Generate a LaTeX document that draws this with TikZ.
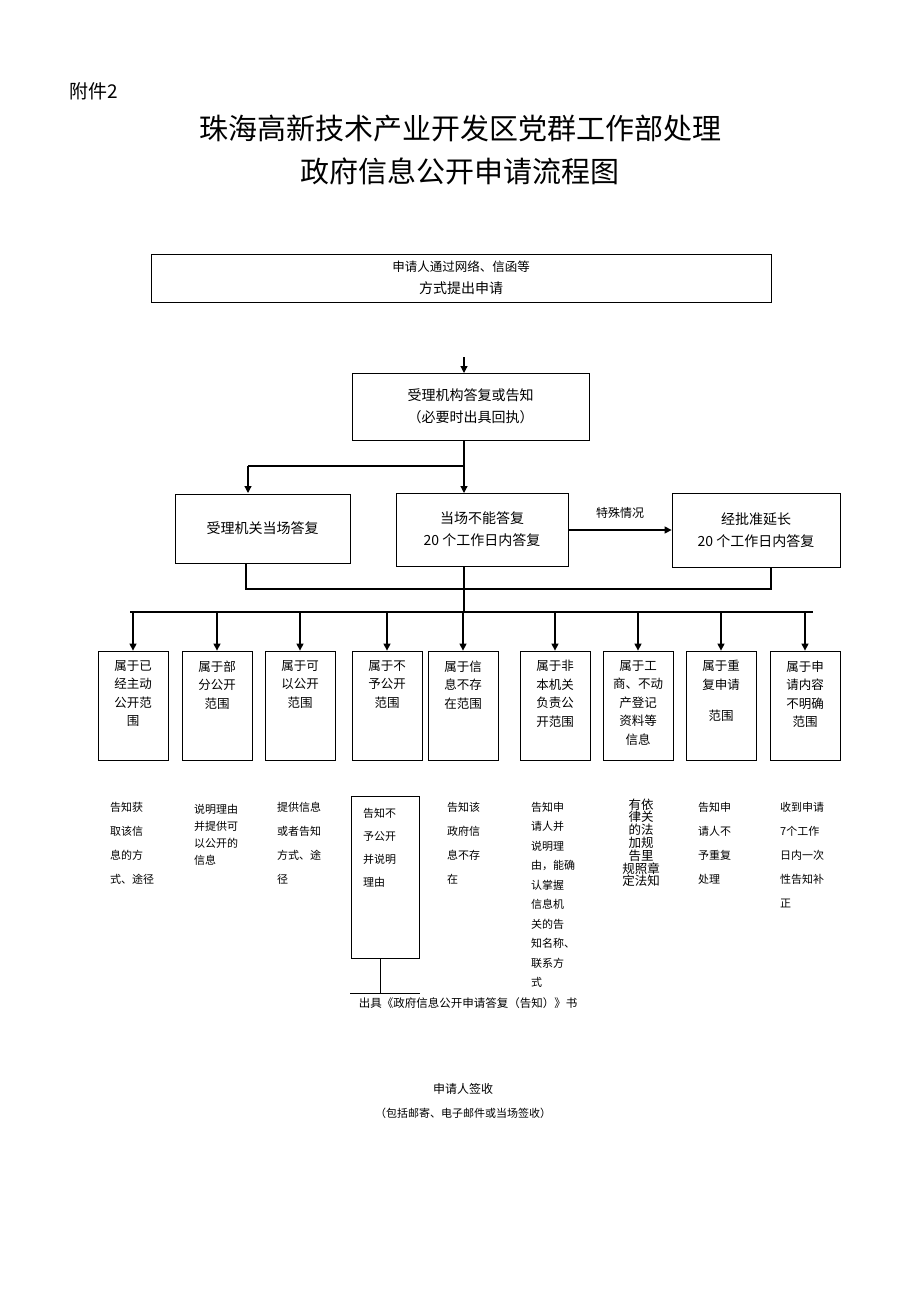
\documentclass[tikz,border=0pt]{standalone}
\usepackage{fontspec}
\setmainfont{Noto Sans CJK SC}
\usetikzlibrary{arrows.meta}
\begin{document}
\begin{tikzpicture}[x=1pt,y=-1pt,
  bx/.style={draw,line width=0.8pt,inner sep=0pt},
  ar/.style={-{Triangle[length=7pt,width=7pt]},line width=1.2pt},
  ln/.style={line width=1.2pt},
  t/.style={font=\fontsize{14}{22}\selectfont,align=center},
  s/.style={font=\fontsize{12.5}{19}\selectfont,align=center},
  b/.style={font=\fontsize{11}{24}\selectfont,align=left,anchor=north west,inner sep=0pt}]
\useasboundingbox (0,0) rectangle (920,1301);
\node[anchor=west,font=\fontsize{19}{22}\selectfont] (fj) at (66,91) {附件2};
\node[font=\fontsize{29}{43}\selectfont,align=center] (title) at (460,150) {珠海高新技术产业开发区党群工作部处理\\政府信息公开申请流程图};
\node[bx,t,minimum width=620,minimum height=48] (n1) at (461,278) {\fontsize{12.5}{22}\selectfont 申请人通过网络、信函等\\方式提出申请};
\node[bx,t,minimum width=237,minimum height=67] (n2) at (470.5,406.5) {受理机构答复或告知\\（必要时出具回执）};
\coordinate (p0) at (464,357);
\draw[ar] (p0) -- (464,373);
\node[bx,t,minimum width=175,minimum height=69] (a) at (262.5,528.5) {受理机关当场答复};
\node[bx,t,minimum width=172,minimum height=73] (bb) at (482,529.5) {当场不能答复\\20 个工作日内答复};
\node[bx,t,minimum width=168,minimum height=74] (c) at (756,530) {经批准延长\\20 个工作日内答复};
\draw[ln] (464,440) -- (464,466);
\draw[ln] (248,466) -- (464,466);
\draw[ar] (248,466) -- (248,493);
\draw[ar] (464,466) -- (464,493);
\draw[ar] (bb.east|-0,530) -- (c.west|-0,530) node[pos=0.5,above=8pt,s,font=\fontsize{12}{14}\selectfont] {特殊情况};
\draw[ln] (246,563) -- (246,589) -- (771,589) -- (771,567);
\draw[ln] (464,566) -- (464,612);
\draw[ln] (130,612) -- (813,612);
\foreach \x/\w/\txt [count=\i] in {
 133/70/{属于已\\经主动\\公开范\\围},
 217/70/{属于部\\分公开\\范围},
 300/70/{属于可\\以公开\\范围},
 387/70/{属于不\\予公开\\范围},
 463/70/{属于信\\息不存\\在范围},
 555/70/{属于非\\本机关\\负责公\\开范围},
 638/70/{属于工\\商、不动\\产登记\\资料等\\信息},
 721/70/{属于重\\复申请\\\\[-6pt]范围},
 805/70/{属于申\\请内容\\不明确\\范围}} {
  \node[bx,minimum width=\w,minimum height=109] (k\i) at (\x,705.5) {};
  \node[s,anchor=north,font=\fontsize{12.5}{18.5}\selectfont] (kt\i) at (\x,657) {\txt};
  \draw[ar] (\x,612) -- (k\i.north);
}
\node[b] (d1) at (110,802) {告知获\\取该信\\息的方\\式、途径};
\node[b,font=\fontsize{11}{17}\selectfont] (d2) at (194,804) {说明理由\\并提供可\\以公开的\\信息};
\node[b] (d3) at (277,802) {提供信息\\或者告知\\方式、途\\径};
\node[bx,minimum width=68,minimum height=162] (d4box) at (385,877) {};
\node[b,font=\fontsize{11}{23}\selectfont] (d4) at (363,808) {告知不\\予公开\\并说明\\理由};
\node[b] (d5) at (447,802) {告知该\\政府信\\息不存\\在};
\node[b,font=\fontsize{11}{19.5}\selectfont] (d6) at (531,802) {告知申\\请人并\\说明理\\由，能确\\认掌握\\信息机\\关的告\\知名称、\\联系方\\式};
\node[s,font=\fontsize{12.5}{12.8}\selectfont,anchor=north] (d7) at (641,795) {有依\\律关\\的法\\加规\\告里\\规照章\\定法知};
\node[b] (d8) at (698,802) {告知申\\请人不\\予重复\\处理};
\node[b] (d9) at (780,802) {收到申请\\7个工作\\日内一次\\性告知补\\正};
\coordinate (q1) at (380,993);
\draw[line width=0.8pt] (380,958) -- (q1);
\draw[line width=0.6pt] (350,993) -- (420,993);
\node[font=\fontsize{11.5}{14}\selectfont] (out) at (468,1003) {出具《政府信息公开申请答复（告知）》书};
\node[font=\fontsize{12}{14}\selectfont] (sign) at (463,1089) {申请人签收};
\node[font=\fontsize{11}{14}\selectfont] (sign2) at (463,1113) {（包括邮寄、电子邮件或当场签收）};
\end{tikzpicture}
\end{document}
